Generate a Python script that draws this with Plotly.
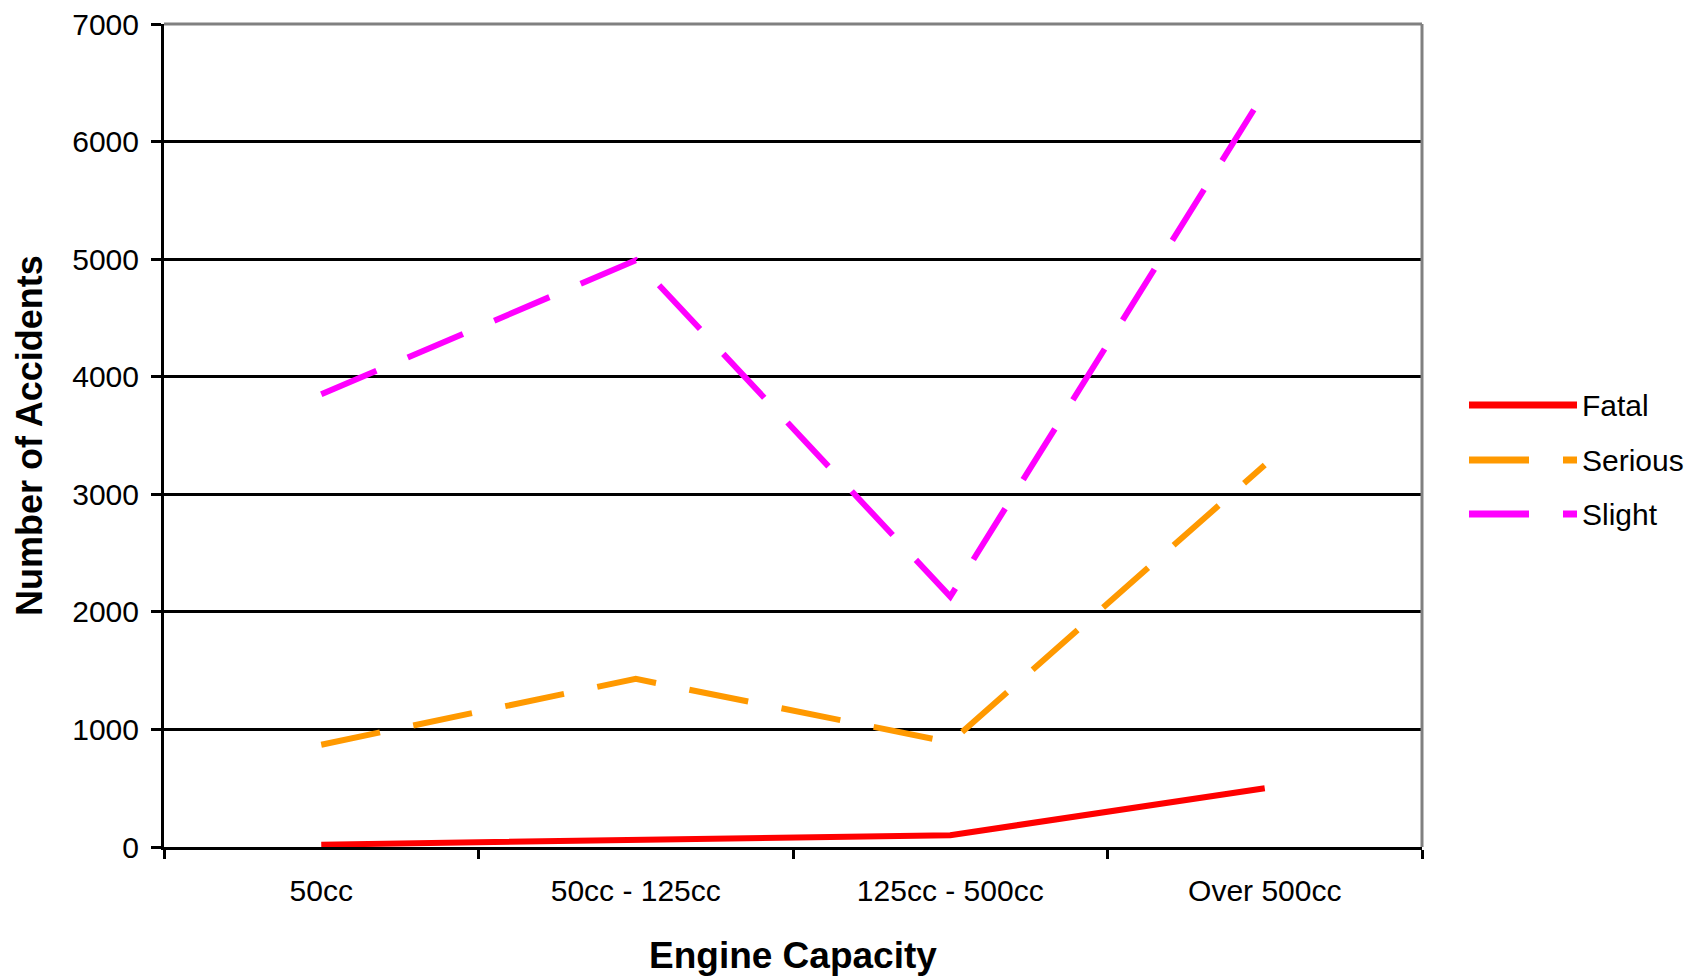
import plotly.graph_objects as go

categories = ["50cc", "50cc - 125cc", "125cc - 500cc", "Over 500cc"]
fatal = [20, 65, 100, 500]
serious = [870, 1430, 890, 3250]
slight = [3850, 4990, 2130, 6420]
series_names = ["Fatal", "Serious", "Slight"]
series_colors = ["#FF0000", "#FF9900", "#FF00FF"]
series_dash = ["solid", "60px,34px", "60px,34px"]
y_ticks = [0, 1000, 2000, 3000, 4000, 5000, 6000, 7000]

FONT = "Liberation Sans, Arial, sans-serif"

fig = go.Figure()
for name, vals, col, dash in zip(series_names, [fatal, serious, slight], series_colors, series_dash):
    fig.add_trace(go.Scatter(
        x=categories, y=vals, mode="lines", name=name,
        line=dict(color=col, width=6, dash=dash),
        showlegend=False,
    ))

W, H = 1696, 978
L, R, T, B = 164, 274, 24, 131
pw, ph = W - L - R, H - T - B

fig.update_layout(
    width=W, height=H,
    margin=dict(l=L, r=R, t=T, b=B, autoexpand=False),
    paper_bgcolor="white", plot_bgcolor="white",
    font=dict(family=FONT, size=30, color="black"),
    xaxis=dict(
        type="category", tickson="boundaries", range=[-0.5, 3.5],
        ticks="outside", ticklen=9, tickwidth=3, tickcolor="black",
        showline=True, linecolor="black", linewidth=3,
        showgrid=False, zeroline=False,
        tickfont=dict(family=FONT, size=30, color="black"),
        ticklabelstandoff=15,
    ),
    yaxis=dict(
        range=[0, 7000], tickvals=y_ticks, ticktext=[str(v) for v in y_ticks],
        ticks="outside", ticklen=10, tickwidth=3, tickcolor="black",
        showline=True, linecolor="black", linewidth=3,
        showgrid=True, gridcolor="black", gridwidth=3, zeroline=False,
        tickfont=dict(family=FONT, size=30, color="black"),
        ticklabelstandoff=6,
    ),
)

# gray plot-area border on top and right
fig.add_shape(type="line", xref="paper", yref="paper", x0=0, x1=1, y0=1, y1=1,
              line=dict(color="#808080", width=3), layer="above")
fig.add_shape(type="line", xref="paper", yref="paper", x0=1, x1=1, y0=0, y1=1,
              line=dict(color="#808080", width=3), layer="above")

# axis titles
fig.add_annotation(text="<b>Engine Capacity</b>", xref="paper", yref="paper",
                   x=0.5, y=(T + ph - 955) / ph, xanchor="center", yanchor="middle",
                   showarrow=False, font=dict(family=FONT, size=37, color="black"))
fig.add_annotation(text="<b>Number of Accidents</b>", xref="paper", yref="paper",
                   x=(29 - L) / pw, y=(T + ph - 436) / ph, xanchor="center", yanchor="middle",
                   textangle=-90, showarrow=False, font=dict(family=FONT, size=36, color="black"))

# custom legend
leg_x0, leg_x1, text_x = 1469, 1577, 1580
leg_y = [405, 460, 514]
for name, col, dash, yy in zip(series_names, series_colors, series_dash, leg_y):
    py = (T + ph - yy) / ph
    fig.add_shape(type="line", xref="paper", yref="paper",
                  x0=(leg_x0 - L) / pw, x1=(leg_x1 - L) / pw, y0=py, y1=py,
                  line=dict(color=col, width=7, dash=dash))
    fig.add_annotation(text=name, xref="paper", yref="paper",
                       x=(text_x - L) / pw, y=py, xanchor="left", yanchor="middle",
                       showarrow=False, font=dict(family=FONT, size=30, color="black"))

fig.write_html("out.html")
